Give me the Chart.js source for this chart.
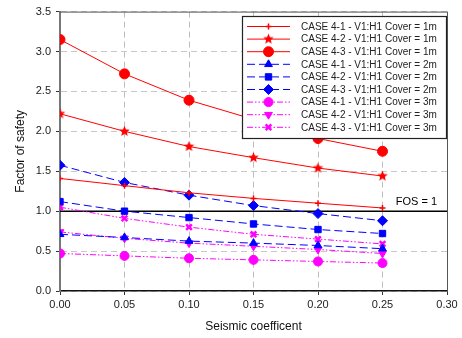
<!DOCTYPE html>
<html><head><meta charset="utf-8">
<script src="https://cdn.jsdelivr.net/npm/chart.js@4/dist/chart.umd.min.js"></script>
<style>html,body{margin:0;padding:0;background:#fff}#wrap{width:462px;height:338px}</style>
</head><body><div id="wrap"><canvas id="c" width="462" height="338"></canvas></div>
<script>
const xValues = [0.00, 0.05, 0.10, 0.15, 0.20, 0.25];
const seriesLabels = [
  "CASE 4-1 - V1:H1 Cover = 1m","CASE 4-2 - V1:H1 Cover = 1m","CASE 4-3 - V1:H1 Cover = 1m",
  "CASE 4-1 - V1:H1 Cover = 2m","CASE 4-2 - V1:H1 Cover = 2m","CASE 4-3 - V1:H1 Cover = 2m",
  "CASE 4-1 - V1:H1 Cover = 3m","CASE 4-2 - V1:H1 Cover = 3m","CASE 4-3 - V1:H1 Cover = 3m"];
const case41_1m = [1.41, 1.32, 1.23, 1.16, 1.10, 1.04];
const case42_1m = [2.22, 2.00, 1.81, 1.67, 1.54, 1.44];
const case43_1m = [3.15, 2.72, 2.39, 2.15, 1.91, 1.75];
const case41_2m = [0.71, 0.67, 0.625, 0.60, 0.57, 0.53];
const case42_2m = [1.12, 1.00, 0.92, 0.84, 0.77, 0.72];
const case43_2m = [1.575, 1.36, 1.20, 1.07, 0.97, 0.88];
const case41_3m = [0.47, 0.44, 0.41, 0.39, 0.37, 0.35];
const case42_3m = [0.74, 0.66, 0.60, 0.56, 0.52, 0.47];
const case43_3m = [1.05, 0.91, 0.80, 0.71, 0.65, 0.59];
const fosValue = 1;
const fosLabel = "FOS = 1";
const xTitle = "Seismic coefficent";
const yTitle = "Factor of safety";

function starCanvas(color, r){
  const s = Math.ceil(r*2+2), c = document.createElement('canvas');
  c.width = s; c.height = s;
  const g = c.getContext('2d'); g.fillStyle = color; g.beginPath();
  for(let i=0;i<10;i++){
    const a = -Math.PI/2 + i*Math.PI/5, rr = i%2===0 ? r : r*0.45;
    const px = s/2 + rr*Math.cos(a), py = s/2 + rr*Math.sin(a);
    i===0 ? g.moveTo(px,py) : g.lineTo(px,py);
  }
  g.closePath(); g.fill(); return c;
}
const RED = '#ff0000', BLUE = '#0000ff', MAG = '#ff00ff';
const dashBlue = [8,4], dashMag = [6,2,1.5,2,1.5,2];
const allSeries = [case41_1m,case42_1m,case43_1m,case41_2m,case42_2m,case43_2m,case41_3m,case42_3m,case43_3m];
const styles = [
  {c:RED, dash:[], ps:'cross', r:3, rot:0, bw:1.5},
  {c:RED, dash:[], ps:starCanvas(RED,5.5), r:5, rot:0, bw:1},
  {c:RED, dash:[], ps:'circle', r:5, rot:0, bw:1},
  {c:BLUE, dash:dashBlue, ps:'triangle', r:4.5, rot:0, bw:1},
  {c:BLUE, dash:dashBlue, ps:'rect', r:4.5, rot:0, bw:1},
  {c:BLUE, dash:dashBlue, ps:'rectRot', r:5, rot:0, bw:1},
  {c:MAG, dash:dashMag, ps:'circle', r:4.5, rot:0, bw:1},
  {c:MAG, dash:dashMag, ps:'triangle', r:4.5, rot:180, bw:1},
  {c:MAG, dash:dashMag, ps:'crossRot', r:4, rot:0, bw:2.5}
];
const datasets = allSeries.map((arr,i)=>({
  label: seriesLabels[i],
  data: arr.map((v,j)=>({x:xValues[j], y:v})),
  borderColor: styles[i].c, backgroundColor: styles[i].c,
  borderWidth: 1, borderDash: styles[i].dash,
  pointStyle: styles[i].ps, pointRadius: styles[i].r, pointRotation: styles[i].rot,
  pointBorderWidth: styles[i].bw, pointBackgroundColor: styles[i].c, pointBorderColor: styles[i].c,
  pointHoverRadius: styles[i].r, tension: 0, fill: false
}));

const extras = {
  id:'extras',
  beforeDatasetsDraw(chart){
    const {ctx, chartArea:a, scales:{y}} = chart;
    const yy = y.getPixelForValue(fosValue);
    ctx.save(); ctx.strokeStyle='#000'; ctx.lineWidth=1.5; ctx.setLineDash([]);
    ctx.beginPath(); ctx.moveTo(a.left, yy); ctx.lineTo(a.right, yy); ctx.stroke();
    ctx.fillStyle='#000'; ctx.font='11px "Liberation Sans", Arial, sans-serif';
    ctx.textAlign='right'; ctx.textBaseline='bottom';
    ctx.fillText(fosLabel, a.right-10, yy-4);
    ctx.restore();
  },
  afterDatasetsDraw(chart){
    const {ctx, chartArea:a} = chart;
    ctx.save(); ctx.setLineDash([]);
    ctx.strokeStyle='#555'; ctx.lineWidth=1;
    ctx.beginPath(); ctx.moveTo(a.left, a.top+0.5); ctx.lineTo(a.right+0.5, a.top+0.5); ctx.lineTo(a.right+0.5, a.bottom); ctx.stroke();
    const bx = 242.5, by = 16.5, bw = 204, bh = 122;
    ctx.fillStyle='#fff'; ctx.fillRect(bx,by,bw,bh);
    ctx.strokeStyle='#222'; ctx.lineWidth=1.2; ctx.strokeRect(bx,by,bw,bh);
    ctx.font='10px "Liberation Sans", Arial, sans-serif'; ctx.textBaseline='middle'; ctx.textAlign='left';
    chart.data.datasets.forEach((ds,i)=>{
      const yy = 26.5 + i*12.6;
      ctx.strokeStyle = ds.borderColor; ctx.lineWidth=1; ctx.setLineDash(ds.borderDash);
      ctx.beginPath(); ctx.moveTo(247, yy); ctx.lineTo(290, yy); ctx.stroke();
      ctx.setLineDash([]);
      ctx.fillStyle = ds.pointBackgroundColor; ctx.strokeStyle = ds.pointBorderColor; ctx.lineWidth = ds.pointBorderWidth;
      Chart.helpers.drawPoint(ctx, {pointStyle: ds.pointStyle, rotation: ds.pointRotation, radius: ds.pointRadius, borderWidth: ds.pointBorderWidth}, 268.5, yy);
      ctx.fillStyle='#222';
      ctx.fillText(ds.label, 301, yy+0.5);
    });
    ctx.restore();
  }
};

new Chart(document.getElementById('c'), {
  type:'line',
  data:{datasets},
  options:{
    responsive:false, animation:false, devicePixelRatio:1,
    layout:{padding:{left:13, right:15, top:11, bottom:0}},
    plugins:{legend:{display:false}, tooltip:{enabled:false}},
    scales:{
      x:{type:'linear', min:0, max:0.3,
        afterFit(s){ s.height = 47; },
        ticks:{stepSize:0.05, callback:v=>Number(v).toFixed(2), color:'#222', font:{family:'"Liberation Sans", Arial', size:11}, padding:3, maxRotation:0},
        grid:{color:'#bdbdbd', tickColor:'#333', tickLength:4, tickBorderDash:[], lineWidth:1},
        border:{display:true, color:'#111', width:1.5, dash:[6,4]},
        title:{display:true, text:xTitle, color:'#111', font:{family:'"Liberation Sans", Arial', size:12}, padding:{top:4}}
      },
      y:{min:0, max:3.5,
        afterFit(s){ s.width = 47; },
        ticks:{stepSize:0.5, callback:v=>Number(v).toFixed(1), color:'#222', font:{family:'"Liberation Sans", Arial', size:11}, padding:5},
        grid:{color:'#c8c8c8', tickColor:'#333', tickLength:4, tickBorderDash:[], lineWidth:1},
        border:{display:true, color:'#777', width:2, dash:[6,4]},
        title:{display:true, text:yTitle, color:'#111', font:{family:'"Liberation Sans", Arial', size:12}, padding:{top:0,bottom:0}}
      }
    }
  },
  plugins:[extras]
});
</script></body></html>
